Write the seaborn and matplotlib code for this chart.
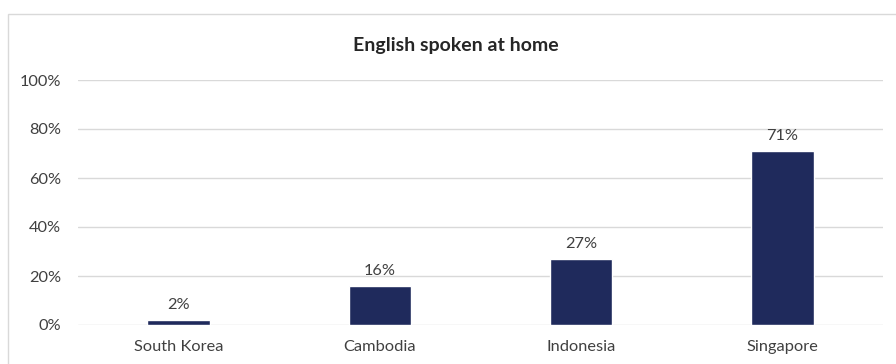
import matplotlib
matplotlib.use("Agg")
import matplotlib.pyplot as plt
import seaborn as sns
import pandas as pd
from matplotlib.patches import Rectangle
from matplotlib.ticker import PercentFormatter

countries = ["South Korea", "Cambodia", "Indonesia", "Singapore"]
english_at_home = [2, 16, 27, 71]
y_ticks = [0, 20, 40, 60, 80, 100]

df = pd.DataFrame({"country": countries, "share": english_at_home})

sns.set_theme(style="white")
plt.rcParams["font.family"] = ["Lato", "DejaVu Sans"]

fig = plt.figure(figsize=(8.96, 3.64), dpi=100)
fig.patch.set_facecolor("white")
W, H = 896, 364

# outer chart frame
fig.add_artist(Rectangle((8 / W, -0.05), 1.2, (364 - 14) / H + 0.05,
                         transform=fig.transFigure, fill=False,
                         edgecolor="#d9d9d9", linewidth=1.0))

ax = fig.add_axes([78 / W, 39 / H, (883 - 78) / W, (325 - 80) / H])
sns.barplot(data=df, x="country", y="share", color="#1f2a5c",
            saturation=1, width=0.31, ax=ax)

ax.set_ylim(0, 100)
ax.set_yticks(y_ticks)
ax.yaxis.set_major_formatter(PercentFormatter(decimals=0))
ax.grid(axis="y", color="#d9d9d9", linewidth=1.0)
ax.set_axisbelow(True)
for s in ax.spines.values():
    s.set_visible(False)
ax.set_xlabel("")
ax.set_ylabel("")
ax.tick_params(axis="both", length=0, labelsize=11.8, colors="#404040")
ax.tick_params(axis="y", pad=12)
ax.tick_params(axis="x", pad=11)

for p, v in zip(ax.patches, english_at_home):
    ax.text(p.get_x() + p.get_width() / 2, v + 3.2, f"{v}%",
            ha="center", va="bottom", fontsize=11.8, color="#404040")

fig.text(456 / W, 1 - 46 / H, "English spoken at home", ha="center",
         va="center", fontsize=14, fontweight="bold", color="#262626")

fig.savefig("out.png", dpi=100, facecolor="white")
